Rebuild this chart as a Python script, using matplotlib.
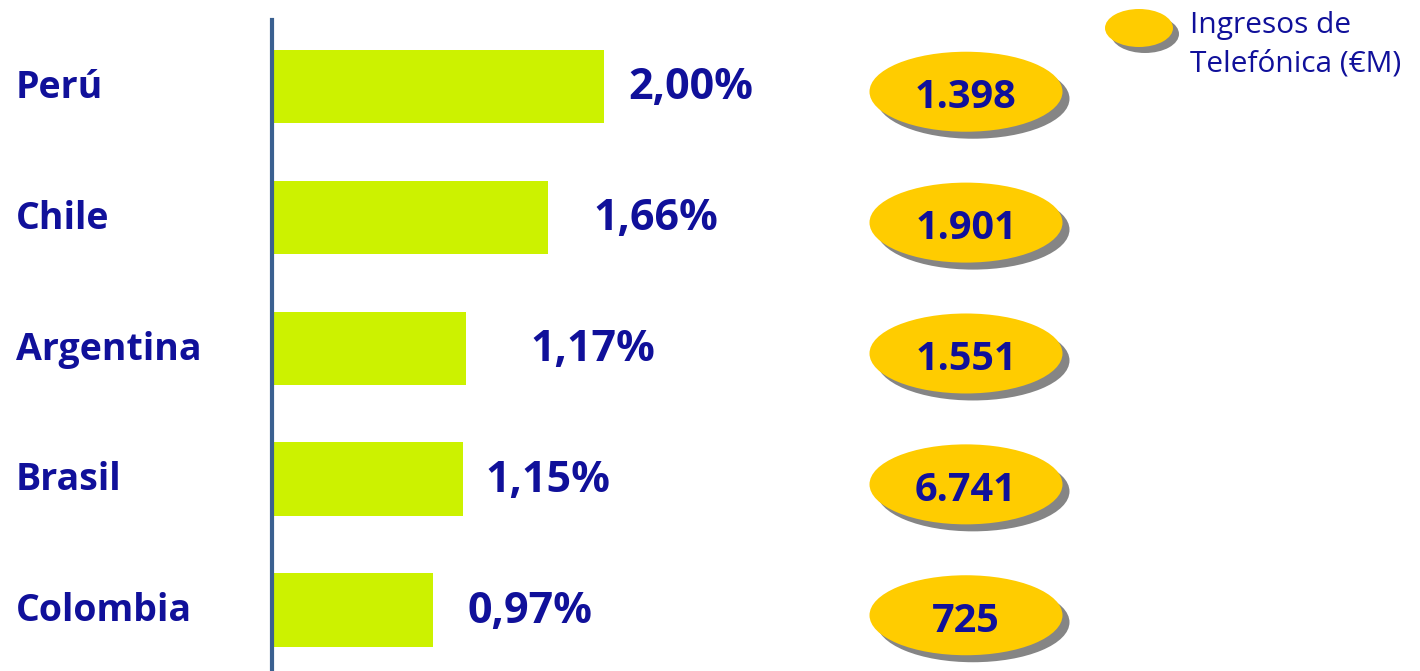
import matplotlib
matplotlib.use("Agg")
import matplotlib.pyplot as plt
from matplotlib.patches import Ellipse
from matplotlib.transforms import blended_transform_factory

# ---- data ----
countries = ["Perú", "Chile", "Argentina", "Brasil", "Colombia"]
share_pct = [2.00, 1.66, 1.17, 1.15, 0.97]
pct_labels = ["2,00%", "1,66%", "1,17%", "1,15%", "0,97%"]
revenue_labels = ["1.398", "1.901", "1.551", "6.741", "725"]
legend_lines = ["Ingresos de", "Telefónica (€M)"]

# ---- style ----
NAVY = "#10109a"
BAR = "#ccf200"
GOLD = "#ffcc00"
SHADOW = "#858585"
AXIS = "#3a6090"
FONT = ["Open Sans", "DejaVu Sans"]
label_pad_px = [24, 46, 64, 23, 34]

W, H = 1420, 671
fig = plt.figure(figsize=(W / 100, H / 100), dpi=100)
left_px = 272
ax = fig.add_axes([left_px / W, 0, 1 - left_px / W, 1])
px_per_x = 166.0
px_per_y = 130.9
x_max = (W - left_px) / px_per_x
y_top = -86.5 / px_per_y
y_bot = 4 + (H - 610) / px_per_y
ax.set_xlim(0, x_max)
ax.set_ylim(y_bot, y_top)

ypos = list(range(len(countries)))
ax.barh(ypos, share_pct, height=0.56, color=BAR, zorder=2)

for s in ["top", "right", "bottom"]:
    ax.spines[s].set_visible(False)
ax.spines["left"].set_color(AXIS)
ax.spines["left"].set_linewidth(3)
ax.spines["left"].set_bounds(y_top + 20 / px_per_y, y_bot)
ax.set_xticks([])
ax.set_yticks([])

fig_x = blended_transform_factory(fig.transFigure, ax.transData)
for y, name in zip(ypos, countries):
    ax.text(16 / W, y + 0.01, name, transform=fig_x, ha="left", va="center",
            fontsize=27, fontweight="bold", color=NAVY, family=FONT)

for y, v, lab, pad in zip(ypos, share_pct, pct_labels, label_pad_px):
    ax.text(v + pad / px_per_x, y + 0.01, lab, ha="left", va="center",
            fontsize=31, fontweight="bold", color=NAVY, family=FONT)

ex = (966 - left_px) / px_per_x
ew = 193 / px_per_x
eh = 80 / px_per_y
dx = 7 / px_per_x
dy = 7 / px_per_y
for y, lab in zip(ypos, revenue_labels):
    yc = y + 0.04
    ax.add_patch(Ellipse((ex + dx, yc + dy), ew, eh, facecolor=SHADOW,
                         edgecolor="none", zorder=3))
    ax.add_patch(Ellipse((ex, yc), ew, eh, facecolor=GOLD,
                         edgecolor="none", zorder=4))
    ax.text(ex, yc + 0.045, lab, ha="center", va="center", fontsize=28.5,
            fontweight="bold", color=NAVY, family=FONT, zorder=5)

# legend
tr = fig.transFigure
lx, ly = 1139 / W, 1 - 28 / H
ax.add_artist(Ellipse((lx + 6 / W, ly - 6 / H), 68 / W, 38 / H, transform=tr,
                      facecolor=SHADOW, edgecolor="none"))
ax.add_artist(Ellipse((lx, ly), 68 / W, 38 / H, transform=tr,
                      facecolor=GOLD, edgecolor="none"))
for i, line in enumerate(legend_lines):
    fig.text(1190 / W, 1 - (33 + 38 * i) / H, line, ha="left", va="baseline",
             fontsize=21.5, color=NAVY, family=FONT)

fig.savefig("out.png", dpi=100)
